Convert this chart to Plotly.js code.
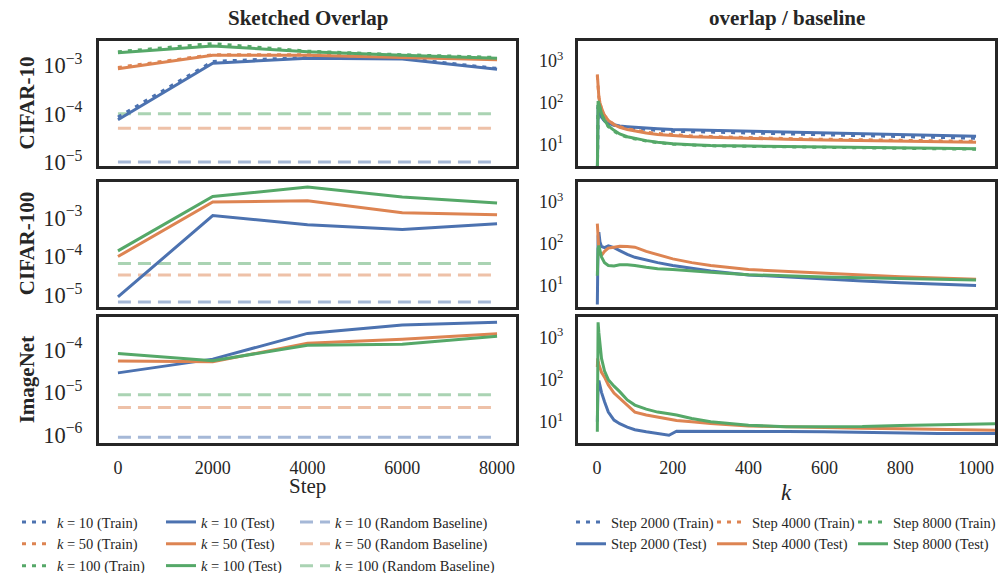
<!DOCTYPE html>
<html><head><meta charset="utf-8">
<script src="https://cdn.plot.ly/plotly-3.0.1.min.js"></script>
<style>html,body{margin:0;padding:0;background:#fff}</style>
</head><body><div id="chart" style="width:1000px;height:573px"></div>
<script>
// ---------- data ----------
const steps = [0, 2000, 4000, 6000, 8000];
const kNames = ['10', '50', '100'];
const stepNames = ['2000', '4000', '8000'];
const ratioTickVals = [10, 100, 1000];
const ratioTickText = ['10<sup>1</sup>', '10<sup>2</sup>', '10<sup>3</sup>'];

// Sketched overlap, CIFAR-10
const c10TestK10 = [7.5e-5, 1.1e-3, 1.4e-3, 1.35e-3, 8.3e-4];
const c10TestK50 = [8.5e-4, 1.6e-3, 1.6e-3, 1.45e-3, 1.3e-3];
const c10TestK100 = [1.8e-3, 2.5e-3, 1.9e-3, 1.6e-3, 1.4e-3];
const c10TrainK10 = [8.5e-5, 1.2e-3, 1.45e-3, 1.4e-3, 8.6e-4];
const c10TrainK50 = [9.0e-4, 1.65e-3, 1.65e-3, 1.5e-3, 1.35e-3];
const c10TrainK100 = [1.9e-3, 2.8e-3, 1.95e-3, 1.65e-3, 1.45e-3];
const c10Baseline = [1.0e-5, 5.0e-5, 1.0e-4];

// Sketched overlap, CIFAR-100
const c100TestK10 = [9e-6, 1.15e-3, 6.7e-4, 5.0e-4, 7.1e-4];
const c100TestK50 = [1.0e-4, 2.6e-3, 2.8e-3, 1.37e-3, 1.22e-3];
const c100TestK100 = [1.4e-4, 3.6e-3, 6.3e-3, 3.5e-3, 2.45e-3];
const c100Baseline = [6.6e-6, 3.3e-5, 6.6e-5];

// Sketched overlap, ImageNet
const inTestK10 = [2.9e-5, 6.1e-5, 2.46e-4, 3.9e-4, 4.5e-4];
const inTestK50 = [5.5e-5, 5.3e-5, 1.44e-4, 1.8e-4, 2.4e-4];
const inTestK100 = [8.3e-5, 5.6e-5, 1.3e-4, 1.36e-4, 2.1e-4];
const inBaseline = [8.9e-7, 4.46e-6, 8.9e-6];

// overlap / baseline vs k
const kC10 = [1,2,3,5,8,12,20,30,45,60,80,100,130,160,200,250,300,400,500,600,700,800,900,1000];
const c10RatioTest2000 = [2,40,80,70,55,45,37,32,30,28,27,26,25,24,23,22.5,22,21,20,19,18.5,17.5,16.8,16];
const c10RatioTest4000 = [480,300,170,140,100,75,50,38,30,26,23,21,19,17.5,16.5,15.5,15,14,13.5,13,12.5,12,11.8,11.5];
const c10RatioTest8000 = [2,60,110,100,75,55,38,28,22,18,15.5,14,12.5,11.5,10.5,10,9.6,9.3,9,8.8,8.6,8.4,8.2,8];
const c10RatioTrain2000 = [1.5,50,90,75,58,46,37,32,29,27,25.5,24.5,23,22,21,20.5,20,19,18,17,16.3,15.5,14.8,14.2];
const c10RatioTrain4000 = [450,280,160,135,98,74,50,38,31,27,24,22,20,18.5,17.2,16.2,15.6,14.6,14,13.5,13,12.5,12.2,12];
const c10RatioTrain8000 = [1.5,55,100,95,72,53,37,27,21,17.5,15,13.6,12.2,11.2,10.3,9.8,9.4,9.1,8.8,8.6,8.4,8.2,8,7.8];

const kC100 = [1,2,3,5,8,12,20,30,45,60,80,100,130,160,200,250,300,400,500,600,700,800,900,1000];
const c100Ratio2000 = [3.5,60,150,187,110,85,80,88,80,68,55,47,40,35,30,26,22,17.8,15.8,14,12.8,11.6,10.8,10];
const c100Ratio4000 = [300,180,110,70,55,52,65,78,82,86,85,82,65,55,43,35,30,24,21.5,19.5,17.5,16,15,14];
const c100Ratio8000 = [17,45,75,89,65,48,35,30,29,31,31,30,27,25,24,22,20.5,18,16.8,15.9,15.3,14.8,14.2,13.5];

const kIN = [1,2,3,5,8,12,20,30,45,60,80,100,130,160,190,210,250,300,400,500,600,700,800,900,1000,1050];
const inRatio2000 = [10,40,75,95,70,50,30,17,11,9,7.5,6.5,5.8,5.2,4.8,6,6,6.1,6,5.9,5.8,5.6,5.4,5.3,5.3,5.3];
const inRatio4000 = [200,320,280,230,180,150,115,75,48,36,24,17,14.5,13,11.5,10.8,10,9.1,8,7.6,7.2,7,6.8,6.5,6.3,6.3];
const inRatio8000 = [5.8,800,2300,1300,600,320,160,100,70,52,33,25,20,17,15.5,14.5,12,10,8.3,7.6,7.6,7.7,8.2,8.6,8.9,9];

// ---------- style ----------
const colors = ['#4C72B0', '#DD8452', '#55A868'];
const baseColors = ['rgba(76,114,176,0.5)', 'rgba(221,132,82,0.5)', 'rgba(85,168,104,0.5)'];
const DOT = '4px,6px';
const DASH = '13px,7px';
const LW = 3;
const SERIF = 'Liberation Serif, DejaVu Serif, serif';
const INK = '#262626';

const leftSets = [
  {x: 'x', y: 'y', test: [c10TestK10, c10TestK50, c10TestK100], train: [c10TrainK10, c10TrainK50, c10TrainK100], base: c10Baseline, leg: true},
  {x: 'x3', y: 'y3', test: [c100TestK10, c100TestK50, c100TestK100], train: null, base: c100Baseline, leg: false},
  {x: 'x5', y: 'y5', test: [inTestK10, inTestK50, inTestK100], train: null, base: inBaseline, leg: false}
];
const rightSets = [
  {x: 'x2', y: 'y2', k: kC10, test: [c10RatioTest2000, c10RatioTest4000, c10RatioTest8000], train: [c10RatioTrain2000, c10RatioTrain4000, c10RatioTrain8000], leg: true},
  {x: 'x4', y: 'y4', k: kC100, test: [c100Ratio2000, c100Ratio4000, c100Ratio8000], train: null, leg: false},
  {x: 'x6', y: 'y6', k: kIN, test: [inRatio2000, inRatio4000, inRatio8000], train: null, leg: false}
];

const traces = [];
leftSets.forEach(s => {
  for (let i = 0; i < 3; i++) {
    traces.push({x: steps, y: steps.map(() => s.base[i]), xaxis: s.x, yaxis: s.y, mode: 'lines',
      line: {color: baseColors[i], width: LW, dash: DASH},
      name: '<i>k</i> = ' + kNames[i] + ' (Random Baseline)', legend: 'legend3', legendrank: i + 1,
      showlegend: s.leg, hoverinfo: 'skip'});
  }
  for (let i = 0; i < 3; i++) {
    traces.push({x: steps, y: s.test[i], xaxis: s.x, yaxis: s.y, mode: 'lines',
      line: {color: colors[i], width: LW},
      name: '<i>k</i> = ' + kNames[i] + ' (Test)', legend: 'legend2', legendrank: i + 1,
      showlegend: s.leg});
    if (s.train) {
      traces.push({x: steps, y: s.train[i], xaxis: s.x, yaxis: s.y, mode: 'lines',
        line: {color: colors[i], width: LW, dash: DOT},
        name: '<i>k</i> = ' + kNames[i] + ' (Train)', legend: 'legend', legendrank: i + 1,
        showlegend: s.leg});
    }
  }
});
const rLegends = ['legend4', 'legend5', 'legend6'];
rightSets.forEach(s => {
  for (let i = 0; i < 3; i++) {
    traces.push({x: s.k, y: s.test[i], xaxis: s.x, yaxis: s.y, mode: 'lines',
      line: {color: colors[i], width: LW},
      name: 'Step ' + stepNames[i] + ' (Test)', legend: rLegends[i], legendrank: 2,
      showlegend: s.leg});
    if (s.train) {
      traces.push({x: s.k, y: s.train[i], xaxis: s.x, yaxis: s.y, mode: 'lines',
        line: {color: colors[i], width: LW, dash: DOT},
        name: 'Step ' + stepNames[i] + ' (Train)', legend: rLegends[i], legendrank: 1,
        showlegend: s.leg});
    }
  }
});

// ---------- layout ----------
const W = 1000, H = 573;
const px = v => v / W;
const py = v => 1 - v / H;
const colL = [px(99), px(516)];
const colR = [px(578), px(995)];
const rows = [[py(166), py(41)], [py(306.7), py(181.7)], [py(443.3), py(317.3)]];

function xAxis(domain, anchor, left, bottom) {
  const a = {domain: domain, anchor: anchor, showgrid: false, zeroline: false, automargin: false,
    showline: true, mirror: true, linewidth: 3, linecolor: INK,
    ticks: 'outside', ticklen: 6, tickcolor: 'rgba(0,0,0,0)',
    showticklabels: bottom, tickfont: {family: SERIF, size: 18, color: INK}};
  if (left) { a.range = [-400, 8400]; a.tickmode = 'array'; a.tickvals = steps; }
  else { a.range = [-50, 1050]; a.tick0 = 0; a.dtick = 200; }
  return a;
}
function yAxisLeft(domain, anchor, range) {
  return {domain: domain, anchor: anchor, type: 'log', range: range, showgrid: false, zeroline: false, automargin: false,
    showline: true, mirror: true, linewidth: 3, linecolor: INK,
    ticks: 'outside', ticklen: 10, tickcolor: 'rgba(0,0,0,0)',
    tick0: 0, dtick: 1, exponentformat: 'power', showexponent: 'all',
    tickfont: {family: SERIF, size: 18, color: INK}};
}
function yAxisRight(domain, anchor) {
  return {domain: domain, anchor: anchor, type: 'log', range: [0.49, 3.48], showgrid: false, zeroline: false, automargin: false,
    showline: true, mirror: true, linewidth: 3, linecolor: INK,
    ticks: 'outside', ticklen: 8, tickcolor: 'rgba(0,0,0,0)',
    tickmode: 'array', tickvals: ratioTickVals, ticktext: ratioTickText,
    tickfont: {family: SERIF, size: 18, color: INK}};
}

const legBase = {orientation: 'v', xanchor: 'left', yanchor: 'top', y: py(506), bgcolor: 'rgba(0,0,0,0)',
  font: {family: SERIF, size: 14.5, color: INK}, itemwidth: 30, tracegroupgap: 0, traceorder: 'normal'};

const annFont = {family: SERIF, size: 21, color: INK};
function ann(text, x, y, extra) {
  return Object.assign({text: text, x: x, y: y, xref: 'paper', yref: 'paper', xanchor: 'center', yanchor: 'middle',
    showarrow: false, font: annFont}, extra || {});
}
const layout = {
  width: W, height: H, margin: {l: 0, r: 0, t: 0, b: 0, autoexpand: false},
  paper_bgcolor: '#fff', plot_bgcolor: '#fff', showlegend: true,
  xaxis: xAxis(colL, 'y', true, false), yaxis: yAxisLeft(rows[0], 'x', [-5.08, -2.5]),
  xaxis2: xAxis(colR, 'y2', false, false), yaxis2: yAxisRight(rows[0], 'x2'),
  xaxis3: xAxis(colL, 'y3', true, false), yaxis3: yAxisLeft(rows[1], 'x3', [-5.30, -2.06]),
  xaxis4: xAxis(colR, 'y4', false, false), yaxis4: yAxisRight(rows[1], 'x4'),
  xaxis5: xAxis(colL, 'y5', true, true), yaxis5: yAxisLeft(rows[2], 'x5', [-6.195, -3.23]),
  xaxis6: xAxis(colR, 'y6', false, true), yaxis6: yAxisRight(rows[2], 'x6'),
  legend: Object.assign({}, legBase, {x: px(17)}),
  legend2: Object.assign({}, legBase, {x: px(161)}),
  legend3: Object.assign({}, legBase, {x: px(295)}),
  legend4: Object.assign({}, legBase, {x: px(571)}),
  legend5: Object.assign({}, legBase, {x: px(712)}),
  legend6: Object.assign({}, legBase, {x: px(853)}),
  annotations: [
    ann('<b>Sketched Overlap</b>', (colL[0] + colL[1]) / 2, py(18)),
    ann('<b>overlap / baseline</b>', (colR[0] + colR[1]) / 2, py(18)),
    ann('<b>CIFAR-10</b>', px(27), (rows[0][0] + rows[0][1]) / 2, {textangle: -90}),
    ann('<b>CIFAR-100</b>', px(27), (rows[1][0] + rows[1][1]) / 2, {textangle: -90}),
    ann('<b>ImageNet</b>', px(27), (rows[2][0] + rows[2][1]) / 2, {textangle: -90}),
    ann('Step', (colL[0] + colL[1]) / 2, py(486)),
    ann('<i>k</i>', (colR[0] + colR[1]) / 2, py(492), {font: {family: SERIF, size: 23, color: INK}})
  ]
};

Plotly.newPlot('chart', traces, layout, {staticPlot: true, displayModeBar: false});
</script></body></html>
